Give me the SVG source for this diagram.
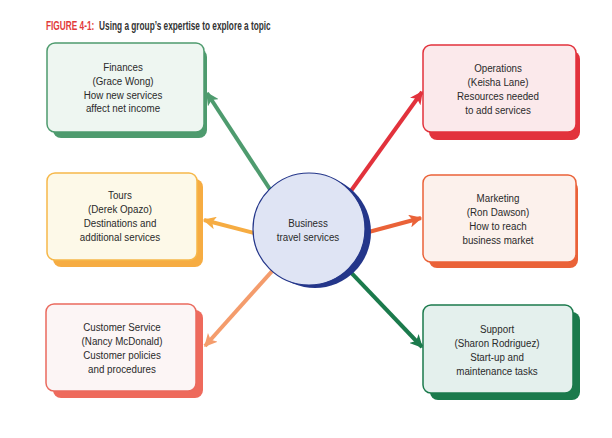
<svg xmlns="http://www.w3.org/2000/svg" width="612" height="438" viewBox="0 0 612 438">
<defs>
<style>
.t{font-family:"Liberation Sans Narrow","Liberation Sans",Arial,sans-serif;font-size:11.5px;fill:#2a2a2a;text-anchor:middle}
.title{font-family:"Liberation Sans Narrow","Liberation Sans",Arial,sans-serif;font-size:12px;font-weight:bold}
.box{stroke-width:1.5}
.arr{stroke-width:4;fill:none}
</style>
<marker id="mG" viewBox="0 0 10 10" refX="9" refY="5" markerWidth="13" markerHeight="13" markerUnits="userSpaceOnUse" orient="auto"><path d="M0,0 L10,5 L0,10 L2.5,5 z" fill="#4e9b6e"/></marker>
<marker id="mR" viewBox="0 0 10 10" refX="9" refY="5" markerWidth="13" markerHeight="13" markerUnits="userSpaceOnUse" orient="auto"><path d="M0,0 L10,5 L0,10 L2.5,5 z" fill="#e2323c"/></marker>
<marker id="mY" viewBox="0 0 10 10" refX="9" refY="5" markerWidth="13" markerHeight="13" markerUnits="userSpaceOnUse" orient="auto"><path d="M0,0 L10,5 L0,10 L2.5,5 z" fill="#f6ac42"/></marker>
<marker id="mO" viewBox="0 0 10 10" refX="9" refY="5" markerWidth="13" markerHeight="13" markerUnits="userSpaceOnUse" orient="auto"><path d="M0,0 L10,5 L0,10 L2.5,5 z" fill="#ea6238"/></marker>
<marker id="mP" viewBox="0 0 10 10" refX="9" refY="5" markerWidth="13" markerHeight="13" markerUnits="userSpaceOnUse" orient="auto"><path d="M0,0 L10,5 L0,10 L2.5,5 z" fill="#f49c6c"/></marker>
<marker id="mD" viewBox="0 0 10 10" refX="9" refY="5" markerWidth="13" markerHeight="13" markerUnits="userSpaceOnUse" orient="auto"><path d="M0,0 L10,5 L0,10 L2.5,5 z" fill="#1b7a4c"/></marker>
</defs>
<rect width="612" height="438" fill="#ffffff"/>
<g id="title" transform="translate(46 30) scale(0.69 1)">
<text class="title" x="0" y="0" fill="#e23a3a">FIGURE 4-1:</text>
<text class="title" x="77" y="0" fill="#333333">Using a group’s expertise to explore a topic</text>
</g>

<g id="connectors">
<line class="arr" x1="290" y1="220" x2="207" y2="93" stroke="#4e9b6e" marker-end="url(#mG)"/>
<line class="arr" x1="330" y1="220" x2="422" y2="92" stroke="#e2323c" marker-end="url(#mR)"/>
<line class="arr" x1="300" y1="245" x2="204" y2="220" stroke="#f6ac42" marker-end="url(#mY)"/>
<line class="arr" x1="320" y1="245" x2="421" y2="218" stroke="#ea6238" marker-end="url(#mO)"/>
<line class="arr" x1="300" y1="240" x2="205" y2="346" stroke="#f49c6c" marker-end="url(#mP)"/>
<line class="arr" x1="320" y1="240" x2="422" y2="347" stroke="#1b7a4c" marker-end="url(#mD)"/>
</g>

<g id="center">
<circle cx="315" cy="232" r="56" fill="#24368a"/>
<circle cx="309" cy="229" r="56" fill="#dfe4f4" stroke="#24368a" stroke-width="1.2"/>
<g transform="translate(308 0) scale(0.85 1)">
<text class="t" x="0" y="227">Business</text>
<text class="t" x="0" y="241">travel services</text>
</g>
</g>

<g id="finances">
<rect x="53" y="49" width="154" height="89" rx="8" fill="#4e9b6e"/>
<rect class="box" x="47" y="43" width="157" height="89" rx="8" fill="#eef6f1" stroke="#4e9b6e"/>
<g transform="translate(123 0) scale(0.85 1)">
<text class="t" x="0" y="71">Finances</text>
<text class="t" x="0" y="85">(Grace Wong)</text>
<text class="t" x="0" y="99">How new services</text>
<text class="t" x="0" y="112">affect net income</text>
</g>
</g>

<g id="operations">
<rect x="429" y="51" width="151" height="89" rx="8" fill="#e2323c"/>
<rect class="box" x="423" y="45" width="153" height="87" rx="8" fill="#fbe9eb" stroke="#e2323c"/>
<g transform="translate(498 0) scale(0.85 1)">
<text class="t" x="0" y="72">Operations</text>
<text class="t" x="0" y="86">(Keisha Lane)</text>
<text class="t" x="0" y="100">Resources needed</text>
<text class="t" x="0" y="114">to add services</text>
</g>
</g>

<g id="tours">
<rect x="53" y="179" width="150" height="88" rx="8" fill="#f6ac42"/>
<rect class="box" x="47" y="173" width="150" height="87" rx="8" fill="#fdf9e8" stroke="#f6b84a"/>
<g transform="translate(120 0) scale(0.85 1)">
<text class="t" x="0" y="199">Tours</text>
<text class="t" x="0" y="213">(Derek Opazo)</text>
<text class="t" x="0" y="227">Destinations and</text>
<text class="t" x="0" y="241">additional services</text>
</g>
</g>

<g id="marketing">
<rect x="429" y="181" width="149" height="87" rx="8" fill="#ea6238"/>
<rect class="box" x="423" y="175" width="153" height="87" rx="8" fill="#fcf1ec" stroke="#ea6238"/>
<g transform="translate(498 0) scale(0.85 1)">
<text class="t" x="0" y="202">Marketing</text>
<text class="t" x="0" y="216">(Ron Dawson)</text>
<text class="t" x="0" y="230">How to reach</text>
<text class="t" x="0" y="244">business market</text>
</g>
</g>

<g id="customer-service">
<rect x="53" y="310" width="150" height="88" rx="8" fill="#ee6a5c"/>
<rect class="box" x="46" y="304" width="150" height="87" rx="8" fill="#fcf5f5" stroke="#ea6a5e"/>
<g transform="translate(122 0) scale(0.85 1)">
<text class="t" x="0" y="331">Customer Service</text>
<text class="t" x="0" y="345">(Nancy McDonald)</text>
<text class="t" x="0" y="359">Customer policies</text>
<text class="t" x="0" y="373">and procedures</text>
</g>
</g>

<g id="support">
<rect x="430" y="312" width="150" height="88" rx="8" fill="#1b7a4c"/>
<rect class="box" x="423" y="305" width="150" height="88" rx="8" fill="#e4f0ed" stroke="#1b7a4c"/>
<g transform="translate(497 0) scale(0.85 1)">
<text class="t" x="0" y="333">Support</text>
<text class="t" x="0" y="347">(Sharon Rodriguez)</text>
<text class="t" x="0" y="361">Start-up and</text>
<text class="t" x="0" y="375">maintenance tasks</text>
</g>
</g>
</svg>
